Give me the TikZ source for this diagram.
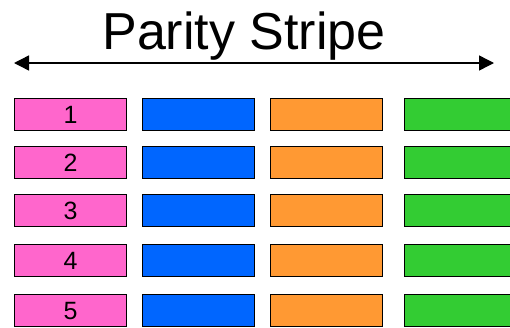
\documentclass[tikz,border=0pt]{standalone}
\usepackage{fontspec}
\setmainfont{Liberation Sans}
\usetikzlibrary{arrows.meta}
\definecolor{cpink}{HTML}{FF66CC}
\definecolor{cblue}{HTML}{0066FF}
\definecolor{corange}{HTML}{FF9933}
\definecolor{cgreen}{HTML}{33CC33}
\begin{document}
\begin{tikzpicture}[x=1pt,y=-1pt,
  blk/.style={draw=black,line width=1.4pt,minimum width=112pt,minimum height=32pt,inner sep=0pt,anchor=north west,font=\fontsize{25}{25}\selectfont},
  arr/.style={line width=1.4pt,{Triangle[length=15pt,width=15pt]}-{Triangle[length=15pt,width=15pt]}}]
\clip (0,0) rectangle (510,327);
\fill[white] (0,0) rectangle (510,327);
\node[font=\fontsize{52}{52}\selectfont,anchor=base] (title) at (244,49) {Parity Stripe};
\coordinate (al) at (14,63);
\coordinate (ar) at (494,63);
\draw[arr] (al) -- (ar);
\foreach \i/\y in {1/98,2/146,3/194,4/244,5/294}{
  \node[blk,fill=cpink] (p\i) at (14,\y) {\raisebox{-1pt}{\i}};
  \node[blk,fill=cblue] (b\i) at (142,\y) {};
  \node[blk,fill=corange] (o\i) at (270,\y) {};
  \node[blk,fill=cgreen] (g\i) at (404,\y) {};
}
\end{tikzpicture}
\end{document}
